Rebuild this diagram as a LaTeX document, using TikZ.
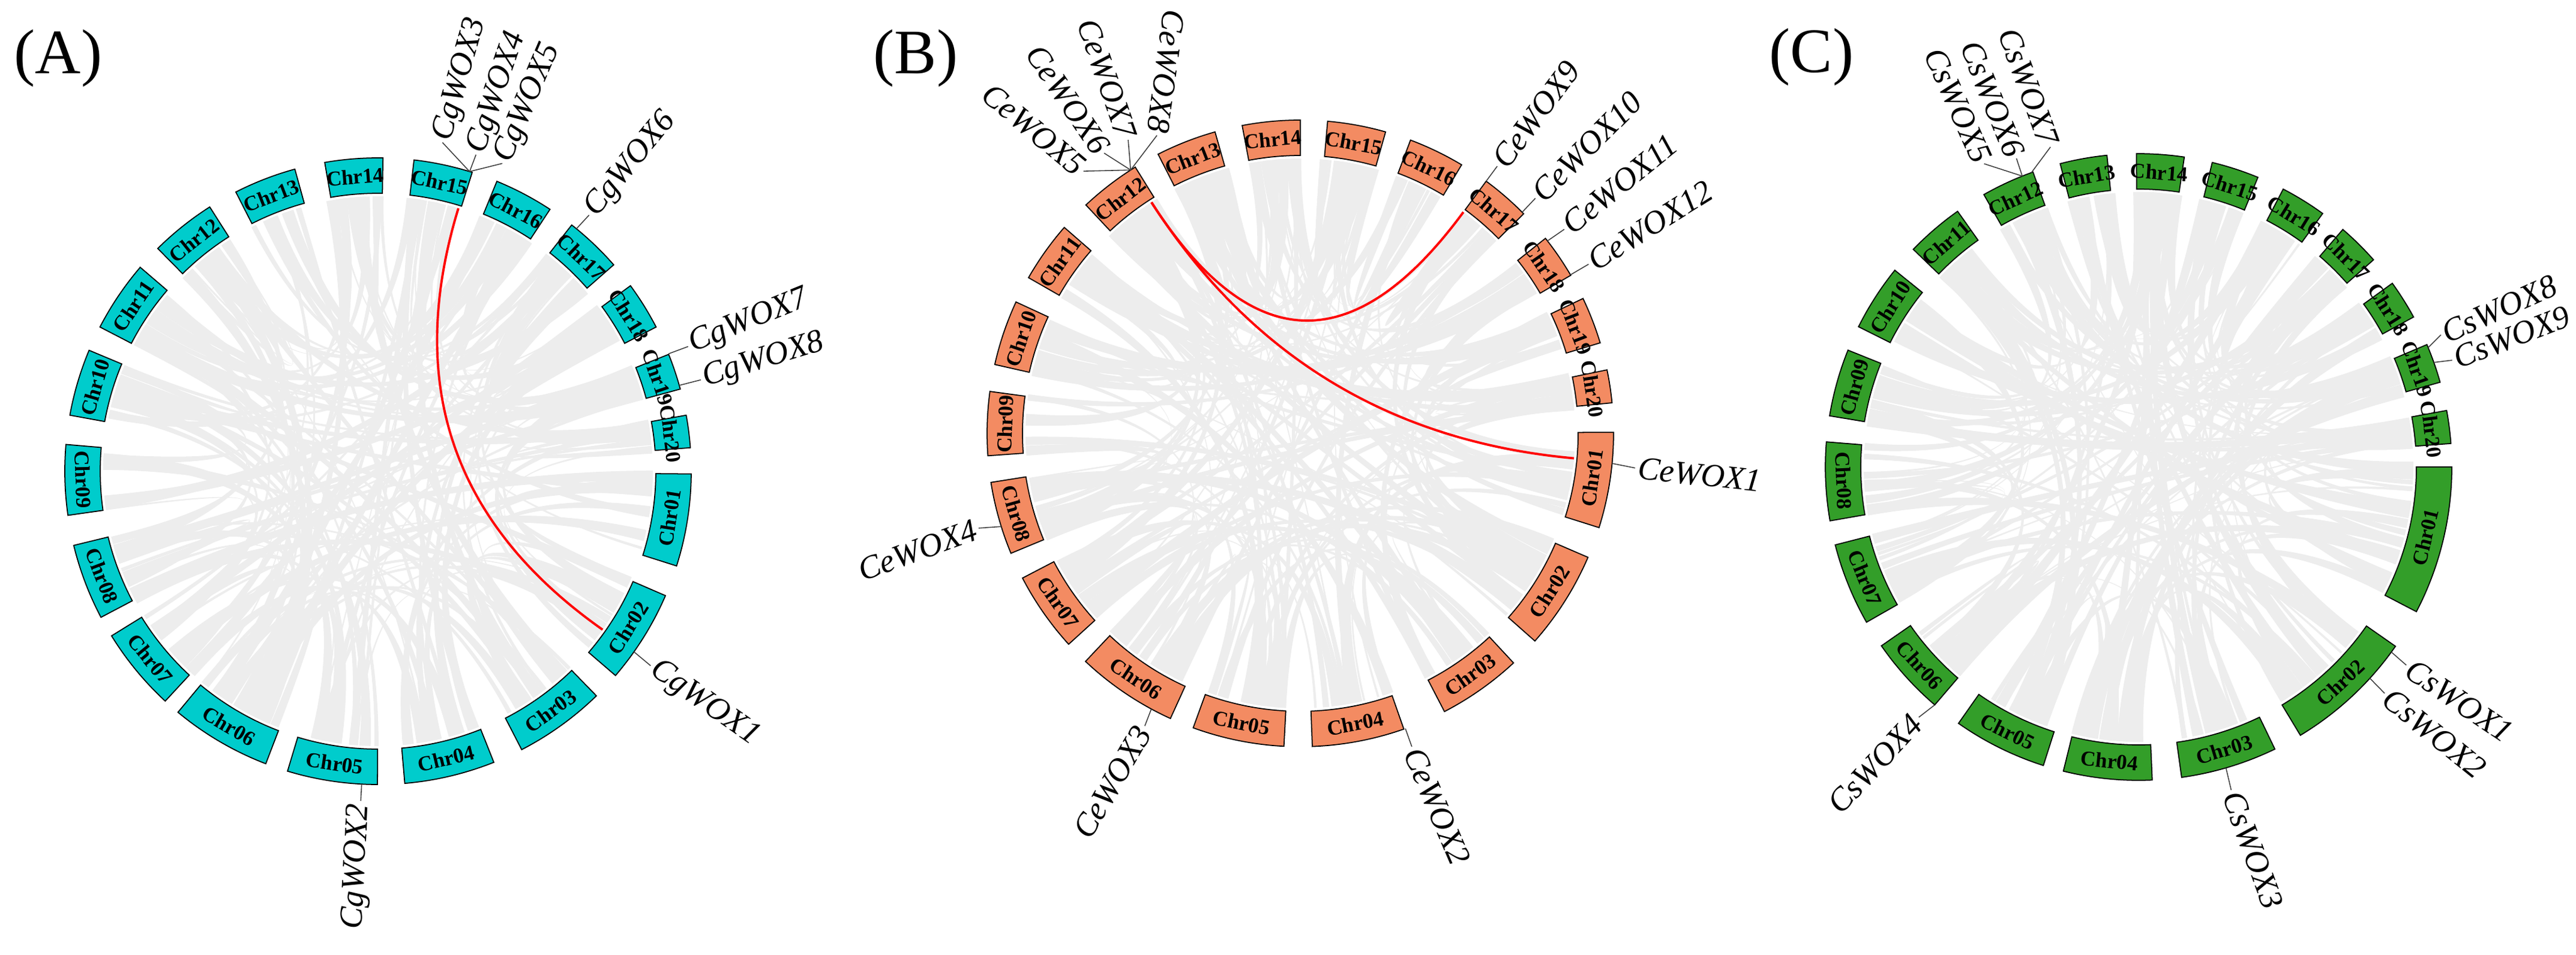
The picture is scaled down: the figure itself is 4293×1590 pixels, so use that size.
\documentclass[tikz,border=0pt]{standalone}
\usepackage{fontspec}
\setmainfont{Liberation Serif}
\definecolor{cyanA}{RGB}{0,204,204}
\definecolor{coralB}{RGB}{243,139,98}
\definecolor{greenC}{RGB}{51,158,41}
\definecolor{linkgray}{RGB}{237,237,237}
\definecolor{redlink}{RGB}{255,0,0}
\def\Rin{463}\def\Rout{522}\def\Rmid{492}\def\Rl{458}\def\Rc{152}
\tikzset{
 boxline/.style={draw=black, line width=0.5pt},
 chrlabel/.style={inner sep=0pt, font=\fontsize{10}{12}\selectfont\bfseries},
 genelabel/.style={inner sep=1.2pt, font=\fontsize{15.5}{18}\selectfont\itshape},
 geneline/.style={draw=black!75, line width=0.45pt},
 synteny/.style={draw=redlink, line width=1.1pt},
 panellabel/.style={inner sep=0pt, font=\fontsize{30}{34}\selectfont},
}
% chromosome ring
\newcommand\chrring[3]{%
  \foreach \n/\s/\e in {#3}{
    \pgfmathsetmacro\cmid{(\s+\e)/2}
    \pgfmathsetmacro\crot{sin(\cmid)>=0 ? \cmid-90 : \cmid+90}
    \draw[boxline, fill=#2] (\s:\Rin) arc[start angle=\s, end angle=\e, radius=\Rin]
      -- (\e:\Rout) arc[start angle=\e, end angle=\s, radius=\Rout] -- cycle;
    \node[chrlabel, rotate=\crot] (#1\n) at (\cmid:\Rmid) {Chr\n};
  }
}
% grey synteny ribbons
\newcommand\chordset[4]{%
  \pgfmathsetseed{#1}
  \foreach \i in {1,...,#2}{
    \pgfmathtruncatemacro\ka{random(0,19)}
    \pgfmathtruncatemacro\kb{random(0,19)}
    \pgfmathsetmacro\linkA{#3[\ka]+rnd*(#4[\ka]-#3[\ka])}
    \pgfmathsetmacro\linkB{#3[\kb]+rnd*(#4[\kb]-#3[\kb])}
    \pgfmathsetmacro\lw{0.2+1.1*rnd}
    \pgfmathsetmacro\aone{\linkA-\lw}
    \pgfmathsetmacro\atwo{\linkA+\lw}
    \pgfmathsetmacro\bone{\linkB-\lw}
    \pgfmathsetmacro\btwo{\linkB+\lw}
    \fill[linkgray] (\aone:\Rl) .. controls (\aone:\Rc) and (\btwo:\Rc) .. (\btwo:\Rl)
      arc[start angle=\btwo, end angle=\bone, radius=\Rl]
      .. controls (\bone:\Rc) and (\atwo:\Rc) .. (\atwo:\Rl)
      arc[start angle=\atwo, end angle=\aone, radius=\Rl] -- cycle;
  }
}
% gene label: name, gene angle, label angle, label radius, rotation, anchor, text
\newcommand\gene[7]{%
  \coordinate (#1g) at (#2:\Rout);
  \coordinate (#1p) at (#3:#4);
  \node[genelabel, rotate=#5, anchor=#6] (#1) at (#1p) {#7};
  \draw[geneline] (#1g) -- (#1p);
}
\def\SA{{-0.5,-23.4,-45.8,-68.3,-90.1,-111,-132.8,-152.2,-171.9,169.7,152.6,134.7,117,99.8,83.4,67.7,51.8,36.3,21.9,10.3}}
\def\EA{{-17.6,-40.7,-62.7,-85.1,-106.8,-129.7,-148.3,-166.3,-184.9,157.3,139.4,122.5,105.4,89.1,72.5,56.7,41.2,27.4,15.2,4.3}}
\def\SB{{0.2,-23.3,-47.1,-70.7,-93,-114.5,-137.7,-157.5,-175.9,167.3,150.2,133.2,117,100.7,85,69.4,53.6,38.5,25.5,11.7}}
\def\EB{{-17.5,-41.5,-62.6,-87.8,-110,-133.3,-152.5,-171,-187.7,155.2,138.9,121.8,105.8,90,74.2,59,44.5,30.3,16.8,5.6}}
\def\SC{{0,-34.9,-64.2,-87.5,-107.7,-130.6,-150.3,-170.1,170.6,153.4,136,119.6,104.5,90.4,76.4,62.5,49.3,35.9,23,10.4}}
\def\EC{{-27.5,-58.9,-82.1,-103.9,-125.1,-145.2,-165.6,-184.6,158.1,141.1,125.3,109.7,95.8,81.6,67.6,54,41.4,28.6,15.7,4.3}}
\begin{document}
\begin{tikzpicture}[x=0.01cm,y=0.01cm]
\path[use as bounding box] (0,0) rectangle (4293,-1590);
\node[panellabel] (labA) at (97,-97) {(A)};
\node[panellabel] (labB) at (1526,-97) {(B)};
\node[panellabel] (labC) at (3019,-95) {(C)};
% ---------------- Panel A
\begin{scope}[shift={(630,-785)}]
  \chordset{11}{170}{\SA}{\EA}
  \coordinate (rA1) at (73:\Rl);
  \coordinate (rA2) at (-35.2:\Rl);
  \draw[synteny] (rA1) .. controls (73:\Rc) and (-35.2:\Rc) .. (rA2);
  \chrring{A}{cyanA}{01/-0.5/-17.6, 02/-23.4/-40.7, 03/-45.8/-62.7, 04/-68.3/-85.1, 05/-90.1/-106.8, 06/-111/-129.7, 07/-132.8/-148.3, 08/-152.2/-166.3, 09/-171.9/-184.9, 10/169.7/157.3, 11/152.6/139.4, 12/134.7/122.5, 13/117/105.4, 14/99.8/89.1, 15/83.4/72.5, 16/67.7/56.7, 17/51.8/41.2, 18/36.3/27.4, 19/21.9/15.2, 20/10.3/4.3}
  \gene{tA1}{-35.2}{-35.5}{558}{-35}{west}{CgWOX1}
  \gene{tA2}{-93}{-93}{550}{87}{east}{CgWOX2}
  \gene{tA3}{73}{78.9}{558}{74}{west}{CgWOX3}
  \gene{tA4}{73}{72.8}{552}{71}{west}{CgWOX4}
  \gene{tA5}{73}{68}{553}{67}{west}{CgWOX5}
  \gene{tA6}{50.7}{50.5}{553}{50.5}{west}{CgWOX6}
  \gene{tA7}{22}{21.9}{557}{22}{west}{CgWOX7}
  \gene{tA8}{15.9}{15.8}{559}{17}{west}{CgWOX8}
\end{scope}
% ---------------- Panel B
\begin{scope}[shift={(2167,-722)}]
  \chordset{23}{170}{\SB}{\EB}
  \coordinate (rB1) at (122.8:\Rl);
  \coordinate (rB2) at (53.6:\Rl);
  \coordinate (rB3) at (-5.2:\Rl);
  \draw[synteny] (rB1) .. controls (122.8:\Rc) and (53.6:\Rc) .. (rB2);
  \draw[synteny] (rB1) .. controls (122.8:\Rc) and (-5.2:\Rc) .. (rB3);
  \chrring{B}{coralB}{01/0.2/-17.5, 02/-23.3/-41.5, 03/-47.1/-62.6, 04/-70.7/-87.8, 05/-93/-110, 06/-114.5/-133.3, 07/-137.7/-152.5, 08/-157.5/-171, 09/-175.9/-187.7, 10/167.3/155.2, 11/150.2/138.9, 12/133.2/121.8, 13/117/105.8, 14/100.7/90, 15/85/74.2, 16/69.4/59, 17/53.6/44.5, 18/38.5/30.3, 19/25.5/16.8, 20/11.7/5.6}
  \gene{tB1}{-5.5}{-5.9}{561}{-6}{west}{CeWOX1}
  \gene{tB2}{-70.4}{-70.4}{554}{-67}{west}{CeWOX2}
  \gene{tB3}{-118.4}{-118}{552}{60}{east}{CeWOX3}
  \gene{tB4}{-162.7}{-163.6}{559}{20}{east}{CeWOX4}
  \gene{tB5}{122.8}{129.6}{567}{-40}{east}{CeWOX5}
  \gene{tB6}{122.8}{125}{570}{-56}{east}{CeWOX6}
  \gene{tB7}{122.8}{120.4}{567}{-71}{east}{CeWOX7}
  \gene{tB8}{122.8}{115.7}{551}{-98}{east}{CeWOX8}
  \gene{tB9}{53.6}{53.6}{553}{53}{west}{CeWOX9}
  \gene{tB10}{44.9}{45}{554}{45}{west}{CeWOX10}
  \gene{tB11}{37.9}{37.7}{556}{39}{west}{CeWOX11}
  \gene{tB12}{30.4}{30.4}{557}{32}{west}{CeWOX12}
\end{scope}
% ---------------- Panel C
\begin{scope}[shift={(3564,-778)}]
  \chordset{37}{160}{\SC}{\EC}
  \chrring{C}{greenC}{01/0/-27.5, 02/-34.9/-58.9, 03/-64.2/-82.1, 04/-87.5/-103.9, 05/-107.7/-125.1, 06/-130.6/-145.2, 07/-150.3/-165.6, 08/-170.1/-184.6, 09/170.6/158.1, 10/153.4/141.1, 11/136/125.3, 12/119.6/109.7, 13/104.5/95.8, 14/90.4/81.6, 15/76.4/67.6, 16/62.5/54, 17/49.3/41.4, 18/35.9/28.6, 19/23/15.7, 20/10.4/4.3}
  \gene{tC1}{-36.2}{-36.5}{555}{-34}{west}{CsWOX1}
  \gene{tC2}{-42.4}{-42.6}{557}{-39}{west}{CsWOX2}
  \gene{tC3}{-73.8}{-74}{560}{-70}{west}{CsWOX3}
  \gene{tC4}{-130.6}{-131.3}{555}{47}{east}{CsWOX4}
  \gene{tC5}{111.8}{117}{567}{-66}{east}{CsWOX5}
  \gene{tC6}{111.8}{111.6}{553}{-68}{east}{CsWOX6}
  \gene{tC7}{110}{105.4}{553}{-70}{east}{CsWOX7}
  \gene{tC8}{22.4}{23.6}{550}{24}{west}{CsWOX8}
  \gene{tC9}{19.5}{18.8}{552}{21}{west}{CsWOX9}
\end{scope}
\end{tikzpicture}
\end{document}
